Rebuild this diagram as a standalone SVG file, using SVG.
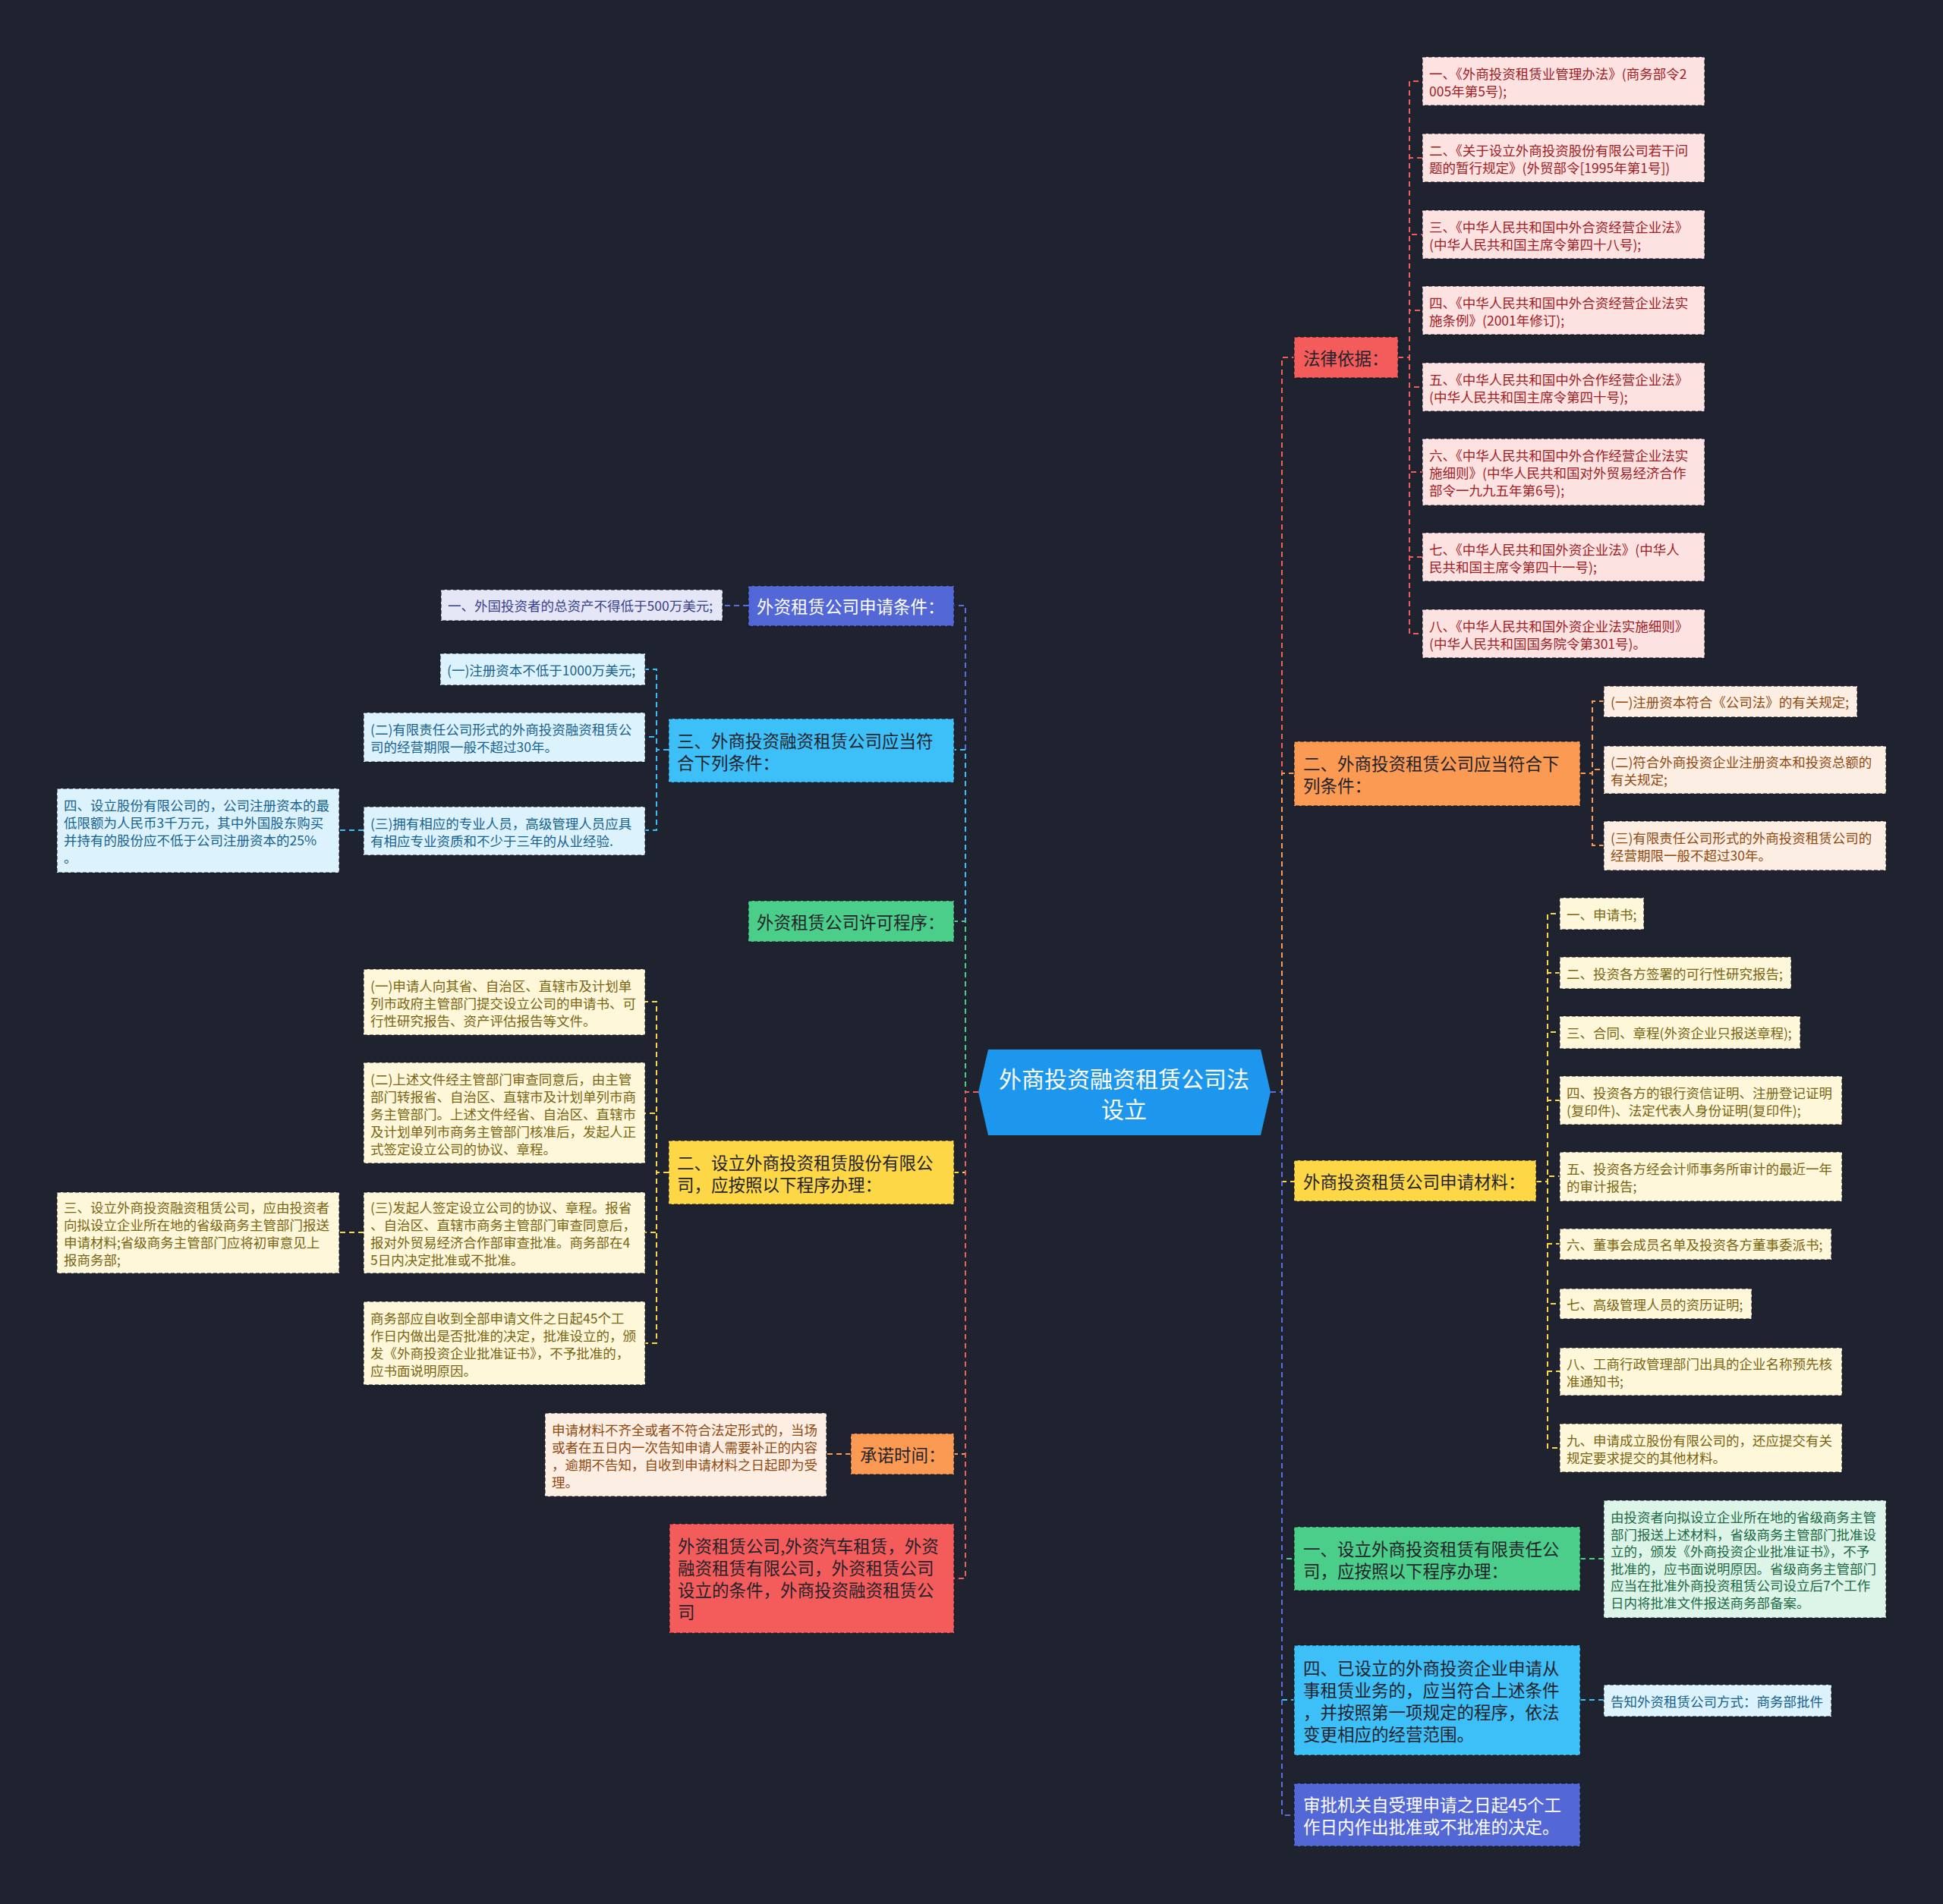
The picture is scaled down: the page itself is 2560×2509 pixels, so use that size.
<svg xmlns="http://www.w3.org/2000/svg" width="2560" height="2509" viewBox="0 0 2560 2509">
<style>
text{font-family:"Noto Sans CJK SC","Noto Sans",sans-serif;dominant-baseline:central}
.t1{font-size:22.5px;fill:#23232b}
.t1w{font-size:22.5px;fill:#ffffff}
.tc{font-size:17.5px}
.bx{stroke:rgba(15,17,28,0.65);stroke-width:1.5;stroke-dasharray:5 3}
.cn{fill:none;stroke-width:2;stroke-dasharray:7 5}
.red{fill:#f45c5c}.redl{fill:#fde2e2}.redt{fill:#9e2024}
.org{fill:#fb9a52}.orgl{fill:#fdeee3}.orgt{fill:#8f4a12}
.yel{fill:#fdd745}.yell{fill:#fef7da}.yelt{fill:#7a6512}
.grn{fill:#4bce89}.grnl{fill:#dcf5e8}.grnt{fill:#1d6a45}
.cya{fill:#3dbff8}.cyal{fill:#dcf3fd}.cyat{fill:#17628e}
.pur{fill:#5367d6}.purl{fill:#e5e6f6}.purt{fill:#3a3f8c}
.sr{stroke:#f45c5c}.so{stroke:#fb9a52}.sy{stroke:#fdd745}.sg{stroke:#4bce89}.sc{stroke:#3dbff8}.sp{stroke:#5a6ee0}
</style>
<rect width="2560" height="2509" fill="#1f2330"/>

<g id="connectors">
<!-- right main -->
<path class="cn sr" d="M1674 1439 H1689 V471 H1705"/>
<path class="cn so" d="M1674 1439 H1689 V1019 H1705"/>
<path class="cn sy" d="M1674 1439 H1689 V1557 H1705"/>
<path class="cn sg" d="M1674 1439 H1689 V2054 H1705"/>
<path class="cn sc" d="M1674 1439 H1689 V2240 H1705"/>
<path class="cn sp" d="M1674 1439 H1689 V2392 H1705"/>
<!-- left main -->
<path class="cn sp" d="M1289 1439 H1272 V798 H1257"/>
<path class="cn sc" d="M1289 1439 H1272 V988 H1257"/>
<path class="cn sg" d="M1289 1439 H1272 V1214 H1257"/>
<path class="cn sy" d="M1289 1439 H1272 V1545 H1257"/>
<path class="cn so" d="M1289 1439 H1272 V1916 H1257"/>
<path class="cn sr" d="M1289 1439 H1272 V2080 H1257"/>
<!-- R1 children -->
<path class="cn sr" d="M1842 471 H1857 V107 H1874"/>
<path class="cn sr" d="M1842 471 H1857 V208 H1874"/>
<path class="cn sr" d="M1842 471 H1857 V309 H1874"/>
<path class="cn sr" d="M1842 471 H1857 V409 H1874"/>
<path class="cn sr" d="M1842 471 H1857 V510 H1874"/>
<path class="cn sr" d="M1842 471 H1857 V622 H1874"/>
<path class="cn sr" d="M1842 471 H1857 V734 H1874"/>
<path class="cn sr" d="M1842 471 H1857 V835 H1874"/>
<!-- R2 children -->
<path class="cn so" d="M2082 1019 H2098 V924 H2113"/>
<path class="cn so" d="M2082 1019 H2098 V1014 H2113"/>
<path class="cn so" d="M2082 1019 H2098 V1114 H2113"/>
<!-- R3 children -->
<path class="cn sy" d="M2024 1557 H2039 V1204 H2055"/>
<path class="cn sy" d="M2024 1557 H2039 V1282 H2055"/>
<path class="cn sy" d="M2024 1557 H2039 V1360 H2055"/>
<path class="cn sy" d="M2024 1557 H2039 V1450 H2055"/>
<path class="cn sy" d="M2024 1557 H2039 V1550 H2055"/>
<path class="cn sy" d="M2024 1557 H2039 V1639 H2055"/>
<path class="cn sy" d="M2024 1557 H2039 V1718 H2055"/>
<path class="cn sy" d="M2024 1557 H2039 V1807 H2055"/>
<path class="cn sy" d="M2024 1557 H2039 V1908 H2055"/>
<!-- R4, R5 -->
<path class="cn sg" d="M2082 2054 H2113"/>
<path class="cn sc" d="M2082 2240 H2113"/>
<!-- L1 -->
<path class="cn sp" d="M986 798 H952"/>
<!-- L2 -->
<path class="cn sc" d="M881 988 H865 V882 H850"/>
<path class="cn sc" d="M881 988 H865 V971 H850"/>
<path class="cn sc" d="M881 988 H865 V1094 H850"/>
<path class="cn sc" d="M479 1094 H447"/>
<!-- L4 -->
<path class="cn sy" d="M881 1545 H865 V1320 H850"/>
<path class="cn sy" d="M881 1545 H865 V1467 H850"/>
<path class="cn sy" d="M881 1545 H865 V1624 H850"/>
<path class="cn sy" d="M881 1545 H865 V1770 H850"/>
<path class="cn sy" d="M479 1624 H447"/>
<!-- L5 -->
<path class="cn so" d="M1121 1916 H1089"/>
</g>

<g id="center">
<polygon points="1289,1439 1302,1383 1661,1383 1674,1439 1661,1496 1302,1496" fill="#1d96ee"/>
<text x="1481" y="1420" text-anchor="middle" font-size="30" fill="#ffffff">外商投资融资租赁公司法</text>
<text x="1481" y="1460" text-anchor="middle" font-size="30" fill="#ffffff">设立</text>
</g>

<!-- ============ RIGHT ============ -->
<g id="r1">
<rect class="bx red" x="1705" y="444" width="137" height="54"/>
<text class="t1" x="1717" y="471">法律依据：</text>
</g>
<g id="r1c1"><rect class="bx redl" x="1874" y="75" width="372" height="64"/>
<text class="tc redt" x="1883" y="96">一、《外商投资租赁业管理办法》(商务部令2</text>
<text class="tc redt" x="1883" y="119">005年第5号);</text></g>
<g id="r1c2"><rect class="bx redl" x="1874" y="176" width="372" height="64"/>
<text class="tc redt" x="1883" y="197">二、《关于设立外商投资股份有限公司若干问</text>
<text class="tc redt" x="1883" y="220">题的暂行规定》(外贸部令[1995年第1号])</text></g>
<g id="r1c3"><rect class="bx redl" x="1874" y="277" width="372" height="64"/>
<text class="tc redt" x="1883" y="298">三、《中华人民共和国中外合资经营企业法》</text>
<text class="tc redt" x="1883" y="321">(中华人民共和国主席令第四十八号);</text></g>
<g id="r1c4"><rect class="bx redl" x="1874" y="377" width="372" height="64"/>
<text class="tc redt" x="1883" y="398">四、《中华人民共和国中外合资经营企业法实</text>
<text class="tc redt" x="1883" y="421">施条例》(2001年修订);</text></g>
<g id="r1c5"><rect class="bx redl" x="1874" y="478" width="372" height="64"/>
<text class="tc redt" x="1883" y="499">五、《中华人民共和国中外合作经营企业法》</text>
<text class="tc redt" x="1883" y="522">(中华人民共和国主席令第四十号);</text></g>
<g id="r1c6"><rect class="bx redl" x="1874" y="578" width="372" height="88"/>
<text class="tc redt" x="1883" y="599">六、《中华人民共和国中外合作经营企业法实</text>
<text class="tc redt" x="1883" y="622">施细则》(中华人民共和国对外贸易经济合作</text>
<text class="tc redt" x="1883" y="645">部令一九九五年第6号);</text></g>
<g id="r1c7"><rect class="bx redl" x="1874" y="702" width="372" height="64"/>
<text class="tc redt" x="1883" y="723">七、《中华人民共和国外资企业法》(中华人</text>
<text class="tc redt" x="1883" y="746">民共和国主席令第四十一号);</text></g>
<g id="r1c8"><rect class="bx redl" x="1874" y="803" width="372" height="64"/>
<text class="tc redt" x="1883" y="824">八、《中华人民共和国外资企业法实施细则》</text>
<text class="tc redt" x="1883" y="847">(中华人民共和国国务院令第301号)。</text></g>

<g id="r2">
<rect class="bx org" x="1705" y="977" width="377" height="85"/>
<text class="t1" x="1717" y="1005">二、外商投资租赁公司应当符合下</text>
<text class="t1" x="1717" y="1034">列条件：</text>
</g>
<g id="r2c1"><rect class="bx orgl" x="2113" y="904" width="334" height="41"/>
<text class="tc orgt" x="2122" y="924.5">(一)注册资本符合《公司法》的有关规定;</text></g>
<g id="r2c2"><rect class="bx orgl" x="2113" y="983" width="372" height="63"/>
<text class="tc orgt" x="2122" y="1003">(二)符合外商投资企业注册资本和投资总额的</text>
<text class="tc orgt" x="2122" y="1026">有关规定;</text></g>
<g id="r2c3"><rect class="bx orgl" x="2113" y="1082" width="372" height="65"/>
<text class="tc orgt" x="2122" y="1103">(三)有限责任公司形式的外商投资租赁公司的</text>
<text class="tc orgt" x="2122" y="1126">经营期限一般不超过30年。</text></g>

<g id="r3">
<rect class="bx yel" x="1705" y="1529" width="319" height="54"/>
<text class="t1" x="1717" y="1556">外商投资租赁公司申请材料：</text>
</g>
<g id="r3c1"><rect class="bx yell" x="2055" y="1183" width="111" height="42"/>
<text class="tc yelt" x="2064" y="1204">一、申请书;</text></g>
<g id="r3c2"><rect class="bx yell" x="2055" y="1261" width="305" height="42"/>
<text class="tc yelt" x="2064" y="1282">二、投资各方签署的可行性研究报告;</text></g>
<g id="r3c3"><rect class="bx yell" x="2055" y="1339" width="317" height="43"/>
<text class="tc yelt" x="2064" y="1360.5">三、合同、章程(外资企业只报送章程);</text></g>
<g id="r3c4"><rect class="bx yell" x="2055" y="1418" width="372" height="64"/>
<text class="tc yelt" x="2064" y="1439">四、投资各方的银行资信证明、注册登记证明</text>
<text class="tc yelt" x="2064" y="1462">(复印件)、法定代表人身份证明(复印件);</text></g>
<g id="r3c5"><rect class="bx yell" x="2055" y="1518" width="372" height="65"/>
<text class="tc yelt" x="2064" y="1539">五、投资各方经会计师事务所审计的最近一年</text>
<text class="tc yelt" x="2064" y="1562">的审计报告;</text></g>
<g id="r3c6"><rect class="bx yell" x="2055" y="1619" width="358" height="41"/>
<text class="tc yelt" x="2064" y="1639.5">六、董事会成员名单及投资各方董事委派书;</text></g>
<g id="r3c7"><rect class="bx yell" x="2055" y="1698" width="253" height="40"/>
<text class="tc yelt" x="2064" y="1718">七、高级管理人员的资历证明;</text></g>
<g id="r3c8"><rect class="bx yell" x="2055" y="1776" width="372" height="63"/>
<text class="tc yelt" x="2064" y="1796">八、工商行政管理部门出具的企业名称预先核</text>
<text class="tc yelt" x="2064" y="1819">准通知书;</text></g>
<g id="r3c9"><rect class="bx yell" x="2055" y="1876" width="372" height="64"/>
<text class="tc yelt" x="2064" y="1897">九、申请成立股份有限公司的，还应提交有关</text>
<text class="tc yelt" x="2064" y="1920">规定要求提交的其他材料。</text></g>

<g id="r4">
<rect class="bx grn" x="1705" y="2012" width="377" height="84"/>
<text class="t1" x="1717" y="2040">一、设立外商投资租赁有限责任公</text>
<text class="t1" x="1717" y="2069">司，应按照以下程序办理：</text>
</g>
<g id="r4c1"><rect class="bx grnl" x="2113" y="1977" width="372" height="155"/>
<text class="tc grnt" x="2122" y="1998">由投资者向拟设立企业所在地的省级商务主管</text>
<text class="tc grnt" x="2122" y="2021">部门报送上述材料，省级商务主管部门批准设</text>
<text class="tc grnt" x="2122" y="2043">立的，颁发《外商投资企业批准证书》，不予</text>
<text class="tc grnt" x="2122" y="2066">批准的，应书面说明原因。省级商务主管部门</text>
<text class="tc grnt" x="2122" y="2088">应当在批准外商投资租赁公司设立后7个工作</text>
<text class="tc grnt" x="2122" y="2111">日内将批准文件报送商务部备案。</text></g>

<g id="r5">
<rect class="bx cya" x="1705" y="2168" width="377" height="145"/>
<text class="t1" x="1717" y="2197">四、已设立的外商投资企业申请从</text>
<text class="t1" x="1717" y="2226">事租赁业务的，应当符合上述条件</text>
<text class="t1" x="1717" y="2255">，并按照第一项规定的程序，依法</text>
<text class="t1" x="1717" y="2284">变更相应的经营范围。</text>
</g>
<g id="r5c1"><rect class="bx cyal" x="2113" y="2220" width="300" height="42"/>
<text class="tc cyat" x="2122" y="2241">告知外资租赁公司方式：商务部批件</text></g>

<g id="r6">
<rect class="bx pur" x="1705" y="2350" width="377" height="83"/>
<text class="t1w" x="1717" y="2377">审批机关自受理申请之日起45个工</text>
<text class="t1w" x="1717" y="2406">作日内作出批准或不批准的决定。</text>
</g>

<!-- ============ LEFT ============ -->
<g id="l1">
<rect class="bx pur" x="986" y="772" width="271" height="53"/>
<text class="t1w" x="997" y="798">外资租赁公司申请条件：</text>
</g>
<g id="l1c1"><rect class="bx purl" x="581" y="777" width="371" height="41"/>
<text class="tc purt" x="590" y="797.5">一、外国投资者的总资产不得低于500万美元;</text></g>

<g id="l2">
<rect class="bx cya" x="881" y="947" width="376" height="84"/>
<text class="t1" x="892" y="975">三、外商投资融资租赁公司应当符</text>
<text class="t1" x="892" y="1004">合下列条件：</text>
</g>
<g id="l2c1"><rect class="bx cyal" x="580" y="861" width="270" height="42"/>
<text class="tc cyat" x="589" y="882">(一)注册资本不低于1000万美元;</text></g>
<g id="l2c2"><rect class="bx cyal" x="479" y="939" width="371" height="65"/>
<text class="tc cyat" x="488" y="960">(二)有限责任公司形式的外商投资融资租赁公</text>
<text class="tc cyat" x="488" y="983">司的经营期限一般不超过30年。</text></g>
<g id="l2c3"><rect class="bx cyal" x="479" y="1063" width="371" height="64"/>
<text class="tc cyat" x="488" y="1084">(三)拥有相应的专业人员，高级管理人员应具</text>
<text class="tc cyat" x="488" y="1107">有相应专业资质和不少于三年的从业经验.</text></g>
<g id="l2c3c1"><rect class="bx cyal" x="75" y="1039" width="372" height="111"/>
<text class="tc cyat" x="84" y="1060">四、设立股份有限公司的，公司注册资本的最</text>
<text class="tc cyat" x="84" y="1083">低限额为人民币3千万元，其中外国股东购买</text>
<text class="tc cyat" x="84" y="1106">并持有的股份应不低于公司注册资本的25%</text>
<text class="tc cyat" x="84" y="1129">。</text></g>

<g id="l3">
<rect class="bx grn" x="986" y="1187" width="271" height="54"/>
<text class="t1" x="997" y="1214">外资租赁公司许可程序：</text>
</g>

<g id="l4">
<rect class="bx yel" x="881" y="1503" width="376" height="84"/>
<text class="t1" x="892" y="1531">二、设立外商投资租赁股份有限公</text>
<text class="t1" x="892" y="1560">司，应按照以下程序办理：</text>
</g>
<g id="l4c1"><rect class="bx yell" x="479" y="1277" width="371" height="87"/>
<text class="tc yelt" x="488" y="1298">(一)申请人向其省、自治区、直辖市及计划单</text>
<text class="tc yelt" x="488" y="1321">列市政府主管部门提交设立公司的申请书、可</text>
<text class="tc yelt" x="488" y="1344">行性研究报告、资产评估报告等文件。</text></g>
<g id="l4c2"><rect class="bx yell" x="479" y="1400" width="371" height="133"/>
<text class="tc yelt" x="488" y="1421">(二)上述文件经主管部门审查同意后，由主管</text>
<text class="tc yelt" x="488" y="1444">部门转报省、自治区、直辖市及计划单列市商</text>
<text class="tc yelt" x="488" y="1467">务主管部门。上述文件经省、自治区、直辖市</text>
<text class="tc yelt" x="488" y="1490">及计划单列市商务主管部门核准后，发起人正</text>
<text class="tc yelt" x="488" y="1513">式签定设立公司的协议、章程。</text></g>
<g id="l4c3"><rect class="bx yell" x="479" y="1571" width="371" height="107"/>
<text class="tc yelt" x="488" y="1590">(三)发起人签定设立公司的协议、章程。报省</text>
<text class="tc yelt" x="488" y="1613">、自治区、直辖市商务主管部门审查同意后，</text>
<text class="tc yelt" x="488" y="1636">报对外贸易经济合作部审查批准。商务部在4</text>
<text class="tc yelt" x="488" y="1659">5日内决定批准或不批准。</text></g>
<g id="l4c3c1"><rect class="bx yell" x="75" y="1571" width="372" height="107"/>
<text class="tc yelt" x="84" y="1590">三、设立外商投资融资租赁公司，应由投资者</text>
<text class="tc yelt" x="84" y="1613">向拟设立企业所在地的省级商务主管部门报送</text>
<text class="tc yelt" x="84" y="1636">申请材料;省级商务主管部门应将初审意见上</text>
<text class="tc yelt" x="84" y="1659">报商务部;</text></g>
<g id="l4c4"><rect class="bx yell" x="479" y="1715" width="371" height="110"/>
<text class="tc yelt" x="488" y="1736">商务部应自收到全部申请文件之日起45个工</text>
<text class="tc yelt" x="488" y="1759">作日内做出是否批准的决定，批准设立的，颁</text>
<text class="tc yelt" x="488" y="1782">发《外商投资企业批准证书》，不予批准的，</text>
<text class="tc yelt" x="488" y="1805">应书面说明原因。</text></g>

<g id="l5">
<rect class="bx org" x="1121" y="1889" width="136" height="54"/>
<text class="t1" x="1133" y="1916">承诺时间：</text>
</g>
<g id="l5c1"><rect class="bx orgl" x="718" y="1862" width="371" height="110"/>
<text class="tc orgt" x="727" y="1883">申请材料不齐全或者不符合法定形式的，当场</text>
<text class="tc orgt" x="727" y="1906">或者在五日内一次告知申请人需要补正的内容</text>
<text class="tc orgt" x="727" y="1929">，逾期不告知，自收到申请材料之日起即为受</text>
<text class="tc orgt" x="727" y="1952">理。</text></g>

<g id="l6">
<rect class="bx red" x="882" y="2008" width="375" height="144"/>
<text class="t1" x="893" y="2036">外资租赁公司,外资汽车租赁，外资</text>
<text class="t1" x="893" y="2065">融资租赁有限公司，外资租赁公司</text>
<text class="t1" x="893" y="2094">设立的条件，外商投资融资租赁公</text>
<text class="t1" x="893" y="2123">司</text>
</g>
</svg>
